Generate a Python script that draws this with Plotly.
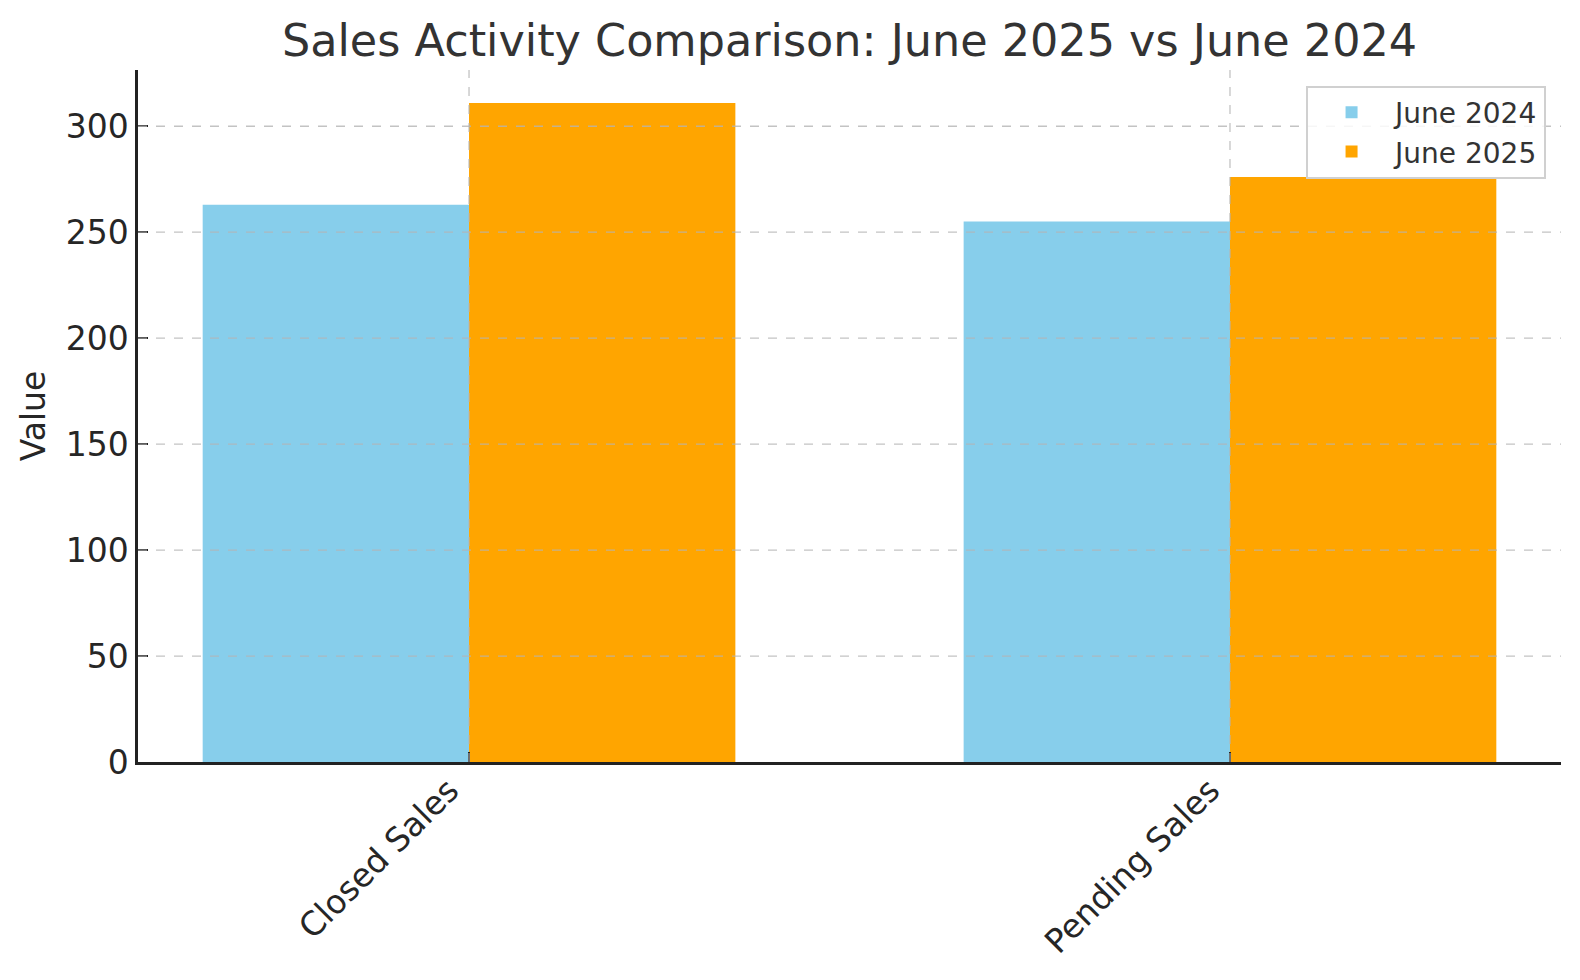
import plotly.graph_objects as go

categories = ["Closed Sales", "Pending Sales"]
june_2024 = [263, 255]
june_2025 = [311, 276]
y_ticks = [0, 50, 100, 150, 200, 250, 300]

FONT = "DejaVu Sans"

fig = go.Figure()
fig.add_trace(go.Bar(name="June 2024", x=categories, y=june_2024,
                     marker=dict(color="#87CEEB", line=dict(width=0))))
fig.add_trace(go.Bar(name="June 2025", x=categories, y=june_2025,
                     marker=dict(color="#FFA500", line=dict(width=0))))

# dashed gridlines drawn above the bars (as in the reference)
shapes = []
for t in y_ticks[1:]:
    shapes.append(dict(type="line", xref="paper", x0=0, x1=1, yref="y", y0=t, y1=t,
                       line=dict(color="rgba(180,180,180,0.8)", width=1.3, dash="dash"),
                       layer="above"))
for c in categories:
    shapes.append(dict(type="line", xref="x", x0=c, x1=c, yref="paper", y0=0, y1=1,
                       line=dict(color="rgba(180,180,180,0.8)", width=1.3, dash="dash"),
                       layer="above"))

fig.update_layout(
    width=1580, height=980,
    margin=dict(l=130, r=27, t=62, b=226, autoexpand=False),
    paper_bgcolor="white", plot_bgcolor="white",
    barmode="group", bargap=0.3, bargroupgap=0,
    font=dict(family=FONT, color="#262626"),
    title=dict(text="Sales Activity Comparison: June 2025 vs June 2024",
               x=0.5326, xanchor="center", y=1 - 32 / 980, yanchor="middle",
               yref="container", font=dict(size=44.5, color="#333333", family=FONT)),
    shapes=shapes,
    legend=dict(x=0.9895, xanchor="right", y=0.9776, yanchor="top",
                bgcolor="rgba(255,255,255,0.85)", bordercolor="#d0d0d0", borderwidth=2,
                font=dict(size=28, color="#333333", family=FONT),
                itemwidth=77, tracegroupgap=6),
    showlegend=True,
)

fig.update_xaxes(
    type="category", range=[-0.435, 1.435], automargin=False,
    showgrid=False, showline=True, linecolor="#222222", linewidth=2.5,
    ticks="inside", ticklen=10, tickwidth=1.5, tickcolor="#222222",
    tickangle=-45, tickfont=dict(size=33, color="#262626", family=FONT),
    ticklabelshift=-20, ticklabelstandoff=-7,
    zeroline=False,
)
fig.update_yaxes(
    range=[0, 326.55], tickvals=y_ticks, automargin=False,
    showgrid=False, showline=True, linecolor="#222222", linewidth=2.5,
    ticks="inside", ticklen=10, tickwidth=2, tickcolor="#222222",
    tickfont=dict(size=33, color="#262626", family=FONT),
    title=dict(text="Value", font=dict(size=33, color="#262626", family=FONT), standoff=11),
    zeroline=False,
)

fig.write_html("out.html")
